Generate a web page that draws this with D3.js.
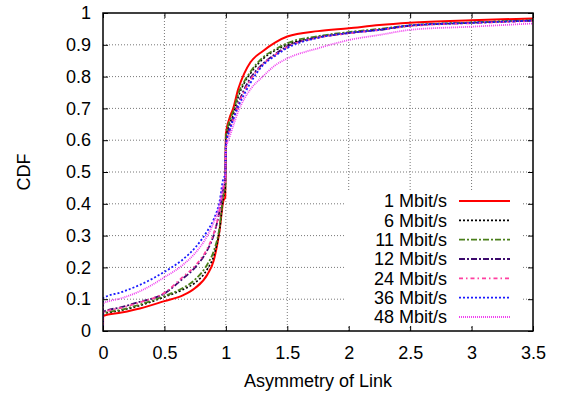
<!DOCTYPE html>
<html>
<head>
<meta charset="utf-8">
<script src="https://cdn.jsdelivr.net/npm/d3@7"></script>
<style>
html,body{margin:0;padding:0;background:#fff;}
svg{display:block;}
text{font-family:"Liberation Sans",Arial,Helvetica,sans-serif;fill:#000;}
</style>
</head>
<body>
<svg id="chart" width="564" height="394"></svg>
<script>
// ---------------- data ----------------
const xs = [0, 0.001, 0.15, 0.3, 0.5, 0.65, 0.75, 0.85, 0.9, 0.95, 0.98, 0.995, 1.0, 1.03, 1.06, 1.1, 1.15, 1.2, 1.3, 1.4, 1.5, 1.75, 2.0, 2.25, 2.5, 3.0, 3.5];
const cdf1  = [0, 0.047, 0.058, 0.071, 0.094, 0.112, 0.135, 0.178, 0.22, 0.32, 0.41, 0.42, 0.62, 0.67, 0.70, 0.76, 0.81, 0.845, 0.88, 0.907, 0.926, 0.943, 0.952, 0.962, 0.969, 0.977, 0.983];
const cdf6  = [0, 0.053, 0.065, 0.08, 0.107, 0.13, 0.152, 0.195, 0.235, 0.32, 0.42, 0.44, 0.60, 0.65, 0.68, 0.735, 0.78, 0.81, 0.855, 0.882, 0.90, 0.925, 0.938, 0.948, 0.96, 0.97, 0.977];
const cdf11 = [0, 0.055, 0.067, 0.083, 0.11, 0.135, 0.162, 0.21, 0.25, 0.33, 0.43, 0.45, 0.61, 0.66, 0.69, 0.745, 0.785, 0.815, 0.86, 0.885, 0.905, 0.927, 0.94, 0.95, 0.961, 0.97, 0.977];
const cdf12 = [0, 0.06, 0.075, 0.092, 0.118, 0.165, 0.20, 0.255, 0.30, 0.38, 0.45, 0.47, 0.59, 0.64, 0.67, 0.715, 0.76, 0.795, 0.84, 0.87, 0.895, 0.923, 0.937, 0.947, 0.96, 0.969, 0.976];
const cdf24 = [0, 0.058, 0.073, 0.09, 0.12, 0.17, 0.205, 0.26, 0.305, 0.38, 0.45, 0.47, 0.58, 0.63, 0.665, 0.71, 0.755, 0.79, 0.838, 0.868, 0.893, 0.922, 0.936, 0.947, 0.959, 0.968, 0.975];
const cdf36 = [0, 0.103, 0.122, 0.145, 0.186, 0.225, 0.262, 0.315, 0.35, 0.41, 0.48, 0.49, 0.58, 0.63, 0.665, 0.705, 0.745, 0.78, 0.835, 0.865, 0.89, 0.922, 0.937, 0.947, 0.961, 0.969, 0.976];
const cdf48 = [0, 0.087, 0.103, 0.125, 0.169, 0.208, 0.245, 0.30, 0.34, 0.40, 0.46, 0.475, 0.57, 0.61, 0.645, 0.69, 0.73, 0.76, 0.80, 0.835, 0.857, 0.889, 0.915, 0.931, 0.947, 0.957, 0.967];

const seriesLabels = ["1 Mbit/s", "6 Mbit/s", "11 Mbit/s", "12 Mbit/s", "24 Mbit/s", "36 Mbit/s", "48 Mbit/s"];
const seriesValues = [cdf1, cdf6, cdf11, cdf12, cdf24, cdf36, cdf48];
const xTicks = [0, 0.5, 1, 1.5, 2, 2.5, 3, 3.5];
const yTicks = [0, 0.1, 0.2, 0.3, 0.4, 0.5, 0.6, 0.7, 0.8, 0.9, 1];
const xTitle = "Asymmetry of Link";
const yTitle = "CDF";

// ---------------- styles ----------------
const styles = [
  {color: "#ff0000", dash: null,        width: 2},
  {color: "#000000", dash: "2,2",       width: 1.6},
  {color: "#4a7f1a", dash: "6,2,2,2",   width: 1.8},
  {color: "#3c0a6e", dash: "6,2,2,2",   width: 1.8},
  {color: "#ff3fa0", dash: "4,3,1.5,3", width: 1.8},
  {color: "#1a1aff", dash: "2,2",       width: 1.8},
  {color: "#f040f0", dash: "1,1",       width: 1.8}
];

// ---------------- layout ----------------
const svg = d3.select("#chart");
const L = 103, R = 533, T = 13, B = 331;
const x = d3.scaleLinear().domain([0, 3.5]).range([L, R]);
const y = d3.scaleLinear().domain([0, 1]).range([B, T]);
const FS = 18;

// grid
const grid = svg.append("g");
grid.selectAll("line.gx").data(xTicks.slice(1, -1)).enter().append("line")
  .attr("x1", d => x(d)).attr("x2", d => x(d)).attr("y1", B).attr("y2", T)
  .attr("stroke", "#777").attr("stroke-width", 1).attr("stroke-dasharray", "1,2");
grid.selectAll("line.gy").data(yTicks.slice(1, -1)).enter().append("line")
  .attr("y1", d => y(d)).attr("y2", d => y(d)).attr("x1", L).attr("x2", R)
  .attr("stroke", "#777").attr("stroke-width", 1).attr("stroke-dasharray", "1,2");

// clip
svg.append("clipPath").attr("id", "clip").append("rect")
  .attr("x", L).attr("y", T).attr("width", R - L).attr("height", B - T);

// lines
const line = d3.line().x(d => x(d[0])).y(d => y(d[1])).curve(d3.curveMonotoneX);
const plot = svg.append("g").attr("clip-path", "url(#clip)");
seriesValues.forEach((vals, i) => {
  const pts = xs.map((v, j) => [v, vals[j]]);
  plot.append("path").datum(pts)
    .attr("d", line)
    .attr("fill", "none")
    .attr("stroke", styles[i].color)
    .attr("stroke-width", styles[i].width)
    .attr("stroke-dasharray", styles[i].dash)
    .attr("stroke-linejoin", "round");
});

// legend (opaque)
const legX0 = 344, legX1 = 521, legY0 = 190, legY1 = 327;
svg.append("rect").attr("x", legX0).attr("y", legY0)
  .attr("width", legX1 - legX0).attr("height", legY1 - legY0).attr("fill", "#fff");
const legRow = d3.scalePoint().domain(seriesLabels).range([201, 317]);
const leg = svg.append("g");
seriesLabels.forEach((lab, i) => {
  const yy = legRow(lab);
  leg.append("text").attr("x", 447).attr("y", yy).attr("dy", "0.35em")
    .attr("text-anchor", "end").attr("font-size", FS).text(lab);
  leg.append("line").attr("x1", 459).attr("x2", 510).attr("y1", yy).attr("y2", yy)
    .attr("stroke", styles[i].color).attr("stroke-width", styles[i].width)
    .attr("stroke-dasharray", styles[i].dash);
});

// axes with inward ticks on all sides
const fmt = d => d3.format("~g")(d);
const ax = svg.append("g");
ax.append("g").attr("transform", `translate(0,${B})`)
  .call(d3.axisBottom(x).tickValues(xTicks).tickFormat(fmt).tickSizeInner(-5).tickSizeOuter(0).tickPadding(15));
ax.append("g").attr("transform", `translate(0,${T})`)
  .call(d3.axisTop(x).tickValues(xTicks).tickFormat("").tickSizeInner(-5).tickSizeOuter(0));
ax.append("g").attr("transform", `translate(${L},0)`)
  .call(d3.axisLeft(y).tickValues(yTicks).tickFormat(fmt).tickSizeInner(-5).tickSizeOuter(0).tickPadding(12));
ax.append("g").attr("transform", `translate(${R},0)`)
  .call(d3.axisRight(y).tickValues(yTicks).tickFormat("").tickSizeInner(-5).tickSizeOuter(0));
ax.selectAll(".domain").remove();
ax.selectAll(".tick line").attr("stroke", "#000").attr("stroke-width", 1);
ax.selectAll(".tick text").attr("font-size", FS).attr("font-family", "Liberation Sans, Arial, sans-serif").attr("fill", "#000");

// border
svg.append("rect").attr("x", L).attr("y", T).attr("width", R - L).attr("height", B - T)
  .attr("fill", "none").attr("stroke", "#000").attr("stroke-width", 1.5);

// titles
svg.append("text").attr("x", (L + R) / 2).attr("y", 387).attr("text-anchor", "middle")
  .attr("font-size", FS).text(xTitle);
svg.append("text").attr("transform", "translate(30,172) rotate(-90)")
  .attr("text-anchor", "middle").attr("font-size", FS).text(yTitle);
</script>
</body>
</html>
